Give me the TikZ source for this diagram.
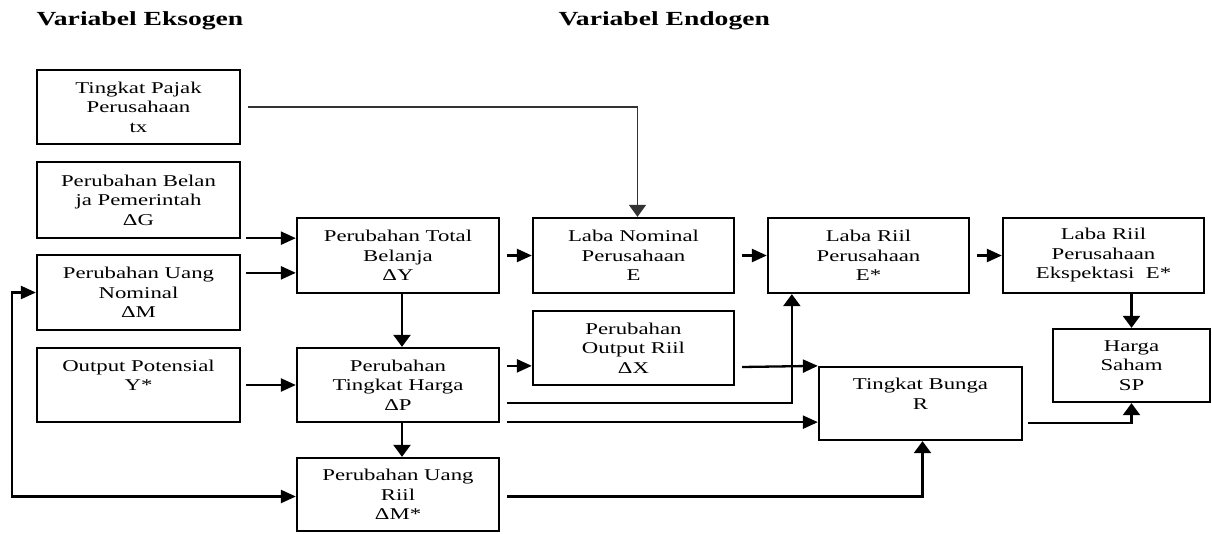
\documentclass[tikz,border=0pt]{standalone}
\usepackage{fontspec}
\setmainfont{Liberation Serif}[FakeStretch=1.38]
\usetikzlibrary{arrows.meta,calc}
\begin{document}
\begin{tikzpicture}[x=1pt,y=-1pt,
  box/.style={draw,line width=2.3pt,inner sep=0pt,align=center,
    font=\fontsize{16.5}{19.5}\selectfont},
  hdr/.style={anchor=base west,font=\bfseries\fontsize{20}{24}\selectfont},
  conn/.style={line width=2.3pt},
  ha/.style={conn,-{Triangle[length=15pt,width=13pt]}},
  va/.style={conn,-{Triangle[length=12pt,width=17pt]}},
  dha/.style={conn,{Triangle[length=15pt,width=13pt]}-{Triangle[length=15pt,width=13pt]}}]
\useasboundingbox (0,0) rectangle (1212,533);
% headers
\node[hdr] (h1) at (33,25) {Variabel Eksogen};
\node[hdr] (h2) at (555,25) {Variabel Endogen};
% exogenous boxes
\node[box,minimum width=203pt,minimum height=74pt] (tx) at (138.5,107) {Tingkat Pajak\\Perusahaan\\tx};
\node[box,minimum width=203pt,minimum height=76pt] (dG) at (138.5,200) {Perubahan Belan\\ja Pemerintah\\ΔG};
\node[box,minimum width=203pt,minimum height=75pt] (dM) at (138.5,292.5) {Perubahan Uang\\Nominal\\ΔM};
\node[box,minimum width=203pt,minimum height=74pt] (Ys) at (138.5,385) {Output Potensial\\Y*\\\mbox{}};
% endogenous boxes
\node[box,minimum width=202pt,minimum height=75pt] (dY) at (398,255.5) {Perubahan Total\\Belanja\\ΔY};
\node[box,minimum width=202pt,minimum height=74pt] (dP) at (398,385) {Perubahan\\Tingkat Harga\\ΔP};
\node[box,minimum width=202pt,minimum height=73pt] (dMs) at (398,494.5) {Perubahan Uang\\Riil\\ΔM*};
\node[box,minimum width=201pt,minimum height=75pt] (E) at (633.5,255.5) {Laba Nominal\\Perusahaan\\E};
\node[box,minimum width=201pt,minimum height=74pt] (dX) at (633.5,348) {Perubahan\\Output Riil\\ΔX};
\node[box,minimum width=201pt,minimum height=75pt] (Es) at (868.5,255.5) {Laba Riil\\Perusahaan\\E*};
\node[box,minimum width=201pt,minimum height=75pt] (Exp) at (1103.5,255.5) {Laba Riil\\Perusahaan\\Ekspektasi\ \ E*};
\node[box,minimum width=157pt,minimum height=73pt] (SP) at (1131.5,365.5) {Harga\\Saham\\SP};
\node[box,minimum width=203pt,minimum height=73pt] (R) at (920.5,403.5) {Tingkat Bunga\\R\\\mbox{}};
% connectors
\draw[va,line width=1.6pt,black!80] ($(tx.east)+(7,0)$) -| ($(E.north)+(4,0)$);
\coordinate (g1) at ($(dG.south east)+(5,-1)$);
\draw[ha] (g1) -- (dY.west |- g1);
\coordinate (m1) at ($(dM.north east)+(5,19)$);
\draw[ha] (m1) -- (dY.west |- m1);
\draw[ha] ($(dY.east)+(7,0)$) -- (E.west);
\draw[va] ($(dY.south)+(4,0)$) -- ($(dP.north)+(4,0)$);
\draw[ha] ($(Ys.east)+(5,0)$) -- (dP.west);
\draw[va] ($(dP.south)+(4,0)$) -- ($(dMs.north)+(4,0)$);
\coordinate (fb) at (12,0);
\draw[dha] (dM.west) -- (fb |- dM.west) -- ($(fb |- dMs.west)+(0,2)$) -- ($(dMs.west)+(0,2)$);
\coordinate (p1) at ($(dP.north east)+(7,19)$);
\draw[ha] (p1) -- (dX.west |- p1);
\draw[ha] ($(dX.east)+(7,19)$) -- (R.north west);
\draw[va] ($(dP.east)+(7,18)$) -| ($(Es.south west)+(25,0)$);
\coordinate (p2) at ($(dP.south east)+(7,-1)$);
\draw[ha] (p2) -- (R.west |- p2);
\draw[va] ($(dMs.east)+(7,2)$) -| ($(R.south)+(2,0)$);
\draw[ha] ($(E.east)+(7,0)$) -- (Es.west);
\draw[ha] ($(Es.east)+(7,0)$) -- (Exp.west);
\draw[va] (Exp.south -| SP.north) -- (SP.north);
\draw[va] ($(R.south east)+(5,-18)$) -| (SP.south);
\end{tikzpicture}
\end{document}
